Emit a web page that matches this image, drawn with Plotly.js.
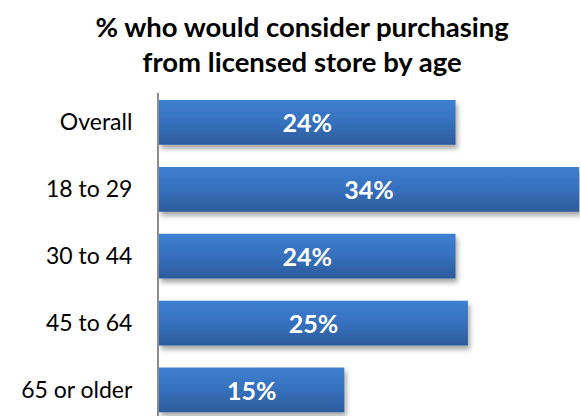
<!DOCTYPE html>
<html><head><meta charset="utf-8">
<script src="https://cdn.plot.ly/plotly-3.0.1.min.js"></script>
<style>html,body{margin:0;padding:0;background:#fff}#chart{width:580px;height:416px}</style>
</head><body><div id="chart"></div>
<script>
const categories = ["Overall", "18 to 29", "30 to 44", "45 to 64", "65 or older"];
const values = [24, 34, 24, 25, 15];
const labels = ["24%", "34%", "24%", "25%", "15%"];

const trace = {
  type: 'bar', orientation: 'h',
  x: values, y: categories,
  text: labels, textposition: 'inside', insidetextanchor: 'middle',
  textangle: 0,
  textfont: {family: 'Lato, sans-serif', size: 25, color: '#ffffff', weight: 'bold'},
  marker: {color: '#3570be', line: {width: 0}},
  width: 0.67, hoverinfo: 'none', cliponaxis: false
};
const layout = {
  width: 580, height: 416,
  margin: {l: 159, r: 0, t: 93, b: 0, pad: 0},
  paper_bgcolor: '#fff', plot_bgcolor: '#fff',
  showlegend: false,
  title: {text: '<b>% who would consider purchasing<br>from licensed store by age</b>',
    font: {family: 'Lato, sans-serif', size: 27.5, color: '#000'},
    x: 0.521, xanchor: 'center', y: 0.912, yanchor: 'top', yref: 'container'},
  xaxis: {range: [0, 34.07], visible: false, fixedrange: true},
  yaxis: {type: 'category', range: [4.39, -0.44], showline: true, linecolor: '#8c8c8c', linewidth: 2,
    showgrid: false, zeroline: false, ticks: '', ticklabelstandoff: 20,
    tickfont: {family: 'Lato, sans-serif', size: 23, color: '#000'}}
};
Plotly.newPlot('chart', [trace], layout, {displayModeBar: false, staticPlot: true}).then(gd => {
  const svg = gd.querySelector('svg.main-svg');
  const ns = 'http://www.w3.org/2000/svg';
  let defs = svg.querySelector('defs');
  if (!defs) { defs = document.createElementNS(ns, 'defs'); svg.insertBefore(defs, svg.firstChild); }
  defs.insertAdjacentHTML('beforeend',
    '<linearGradient id="barGrad" x1="0" y1="0" x2="0" y2="1">' +
    '<stop offset="0" stop-color="#3d7fd0"/><stop offset="0.5" stop-color="#3670bd"/><stop offset="1" stop-color="#2c5b9b"/></linearGradient>' +
    '<filter id="barShadow" x="-10%" y="-20%" width="120%" height="160%">' +
    '<feDropShadow dx="2" dy="4" stdDeviation="2.5" flood-color="#000" flood-opacity="0.35"/></filter>');
  gd.querySelectorAll('.barlayer .point path').forEach(p => {
    p.style.fill = 'url(#barGrad)';
    p.setAttribute('filter', 'url(#barShadow)');
  });
});
</script></body></html>
